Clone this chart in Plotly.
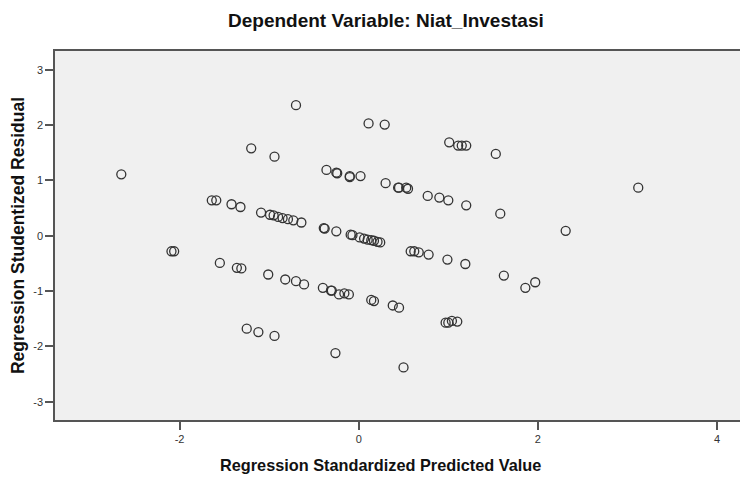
import plotly.graph_objects as go

# Regression Standardized Predicted Value (x) and Studentized Residual (y)
pred = [
    -2.65,
    -2.09, -2.06,
    -1.64, -1.59, -1.42, -1.32, -1.55, -1.36, -1.31,
    -1.25, -1.12, -0.94,
    -1.20, -0.94,
    -1.09, -0.99, -0.95, -0.90, -0.85, -0.79, -0.73, -0.64,
    -1.01, -0.82, -0.70, -0.61,
    -0.70,
    -0.39, -0.38, -0.25, -0.09, -0.07,
    -0.40, -0.31, -0.30, -0.22, -0.16, -0.11,
    -0.26,
    -0.36, -0.25, -0.24, -0.10, -0.10, 0.02,
    0.01, 0.06, 0.10, 0.14, 0.17, 0.21, 0.24,
    0.11, 0.29,
    0.30, 0.44, 0.45, 0.53, 0.55,
    0.14, 0.17, 0.38, 0.45,
    0.50,
    0.58, 0.62, 0.67, 0.78, 0.99, 1.19,
    0.77, 0.90, 1.00, 1.20, 1.58,
    0.97, 1.00, 1.04, 1.10,
    1.01, 1.11, 1.15, 1.20, 1.53,
    1.62, 1.86, 1.97,
    2.31, 3.12,
]
resid = [
    1.11,
    -0.28, -0.28,
    0.64, 0.64, 0.57, 0.52, -0.49, -0.58, -0.59,
    -1.68, -1.74, -1.81,
    1.58, 1.43,
    0.42, 0.38, 0.37, 0.34, 0.32, 0.30, 0.28, 0.24,
    -0.70, -0.79, -0.82, -0.88,
    2.36,
    0.14, 0.13, 0.08, 0.02, 0.01,
    -0.94, -0.99, -0.99, -1.06, -1.04, -1.06,
    -2.12,
    1.19, 1.14, 1.13, 1.08, 1.06, 1.08,
    -0.03, -0.05, -0.07, -0.08, -0.09, -0.11, -0.12,
    2.03, 2.01,
    0.95, 0.87, 0.87, 0.87, 0.85,
    -1.16, -1.18, -1.26, -1.30,
    -2.38,
    -0.28, -0.28, -0.30, -0.34, -0.43, -0.51,
    0.72, 0.69, 0.64, 0.55, 0.40,
    -1.57, -1.57, -1.54, -1.55,
    1.69, 1.63, 1.63, 1.63, 1.48,
    -0.72, -0.94, -0.84,
    0.09, 0.87,
]

x_ticks = [-2, 0, 2, 4]
y_ticks = [-3, -2, -1, 0, 1, 2, 3]

title_text = "Dependent Variable: Niat_Investasi"
x_title = "Regression Standardized Predicted Value"
y_title = "Regression Studentized Residual"

FONT = "Liberation Sans, Arial, sans-serif"

fig = go.Figure()
fig.add_trace(go.Scatter(
    x=pred, y=resid, mode="markers",
    marker=dict(symbol="circle-open", size=9, color="#333333",
                line=dict(width=1.3, color="#333333")),
    hoverinfo="x+y", showlegend=False,
))

# page body has an 8px default margin; figure is sized to compensate
fig.update_layout(
    width=740, height=475,
    margin=dict(l=47, r=0, t=43, b=63),
    paper_bgcolor="white",
    plot_bgcolor="#f0f0f0",
    font=dict(family=FONT, size=11, color="#333333"),
    xaxis=dict(
        range=[-3.39, 4.345], tickvals=x_ticks, ticktext=[str(v) for v in x_ticks],
        showgrid=False, zeroline=False, showline=True, mirror=True,
        linecolor="#555555", linewidth=1.5,
        ticks="outside", ticklen=8, tickwidth=1.5, tickcolor="#555555",
        tickfont=dict(family=FONT, size=11, color="#333333"),
    ),
    yaxis=dict(
        range=[-3.33, 3.34], tickvals=y_ticks, ticktext=[str(v) for v in y_ticks],
        showgrid=False, zeroline=False, showline=True, mirror=False,
        linecolor="#555555", linewidth=1.5,
        ticks="outside", ticklen=8, tickwidth=1.5, tickcolor="#555555",
        tickfont=dict(family=FONT, size=11, color="#333333"),
    ),
    annotations=[
        dict(text="<b>" + title_text + "</b>", xref="paper", yref="paper",
             x=0.4776, y=1.083, xanchor="center", yanchor="middle", showarrow=False,
             font=dict(family=FONT, size=19, color="#111111")),
        dict(text="<b>" + x_title + "</b>", xref="paper", yref="paper",
             x=0.469, y=-0.122, xanchor="center", yanchor="middle", showarrow=False,
             font=dict(family=FONT, size=16.3, color="#111111")),
        dict(text="<b>" + y_title + "</b>", xref="paper", yref="paper",
             x=-0.0534, y=0.501, xanchor="center", yanchor="middle", showarrow=False,
             textangle=-90, font=dict(family=FONT, size=17.5, color="#111111")),
    ],
)

fig.write_html("out.html")
